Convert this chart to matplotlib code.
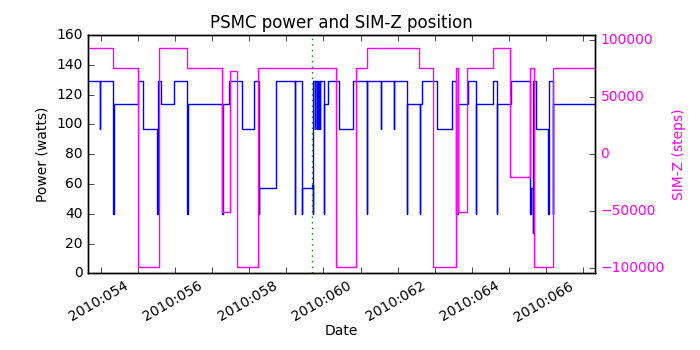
import matplotlib
matplotlib.use("Agg")
import matplotlib.pyplot as plt
import matplotlib.transforms as mtransforms
from matplotlib.ticker import MultipleLocator, FuncFormatter

plt.style.use("classic")

# PSMC power steps (day of year 2010, watts)
power_times = [52.66, 52.98, 52.99, 53.339, 53.347, 54.013, 54.148, 54.509, 54.552,
               54.624, 54.975, 55.333, 55.341, 56.276, 56.284, 56.456, 56.798,
               57.138, 57.256, 57.264, 57.723, 58.234, 58.242, 58.415, 58.423,
               58.684, 58.711, 58.719, 58.773, 58.78, 58.818, 58.825, 58.862,
               58.869, 58.907, 58.914, 59.015, 59.023, 59.115, 59.428, 59.789,
               60.166, 60.174, 60.543, 60.55, 60.901, 60.908, 61.243, 61.251,
               61.602, 61.61, 61.65, 62.068, 62.456, 62.572, 62.625, 62.887,
               63.11, 63.118, 63.577, 63.668, 63.676, 64.045, 64.565, 64.584,
               64.638, 64.654, 64.719, 65.042, 65.077, 65.193, 65.201, 66.32]
power_watts = [129, 97, 129, 40, 114, 129, 97, 40, 129,
               114, 129, 40, 114, 40, 114, 129, 97,
               129, 40, 57, 129, 40, 129, 40, 57,
               59, 40, 129, 97, 129, 97, 129, 97,
               129, 97, 129, 40, 114, 129, 97, 129,
               40, 129, 97, 129, 97, 129, 40, 114,
               40, 114, 129, 97, 129, 40, 114, 129,
               40, 114, 129, 40, 114, 129, 40, 57,
               27, 129, 97, 40, 129, 40, 114, 114]

# SIM-Z translation steps
simz_times = [52.66, 53.339, 54.013, 54.579, 55.333, 56.26, 56.483, 56.664, 57.246,
              59.331, 59.878, 60.166, 61.583, 61.96, 62.564, 62.617, 62.86,
              63.577, 64.026, 64.565, 64.673, 65.193, 66.32]
simz_steps = [92905, 75624, -99616, 92905, 75624, -50505, 72800, -99616, 75624,
              -99616, 75624, 92905, 75624, -99616, 75624, -50505, 75624,
              92905, -20300, 75624, -99616, 75624, 75624]

now_time = 58.70
magenta = "#ff00ff"

fig = plt.figure(figsize=(7, 3.5), dpi=100)
ax1 = fig.add_axes([0.126, 0.219, 0.724, 0.681])
ax1.step(power_times, power_watts, where="post", color="b", lw=1.0)
ax1.axvline(now_time, color="g", ls=":", lw=1.0)
ax1.set_xlim(52.66, 66.32)
ax1.set_ylim(0, 160)
ax1.set_ylabel("Power (watts)", fontsize=10)
ax1.set_xlabel("Date", fontsize=10, labelpad=0)
ax1.set_title("PSMC power and SIM-Z position", fontsize=12)
ax1.xaxis.set_major_locator(MultipleLocator(1))
ax1.xaxis.set_major_formatter(
    FuncFormatter(lambda x, pos: "2010:%03d" % round(x) if round(x) % 2 == 0 else ""))
ax1.tick_params(labelsize=10)

# rotated date labels, nudged left of their ticks
shift = mtransforms.ScaledTranslation(-0.07, 0, fig.dpi_scale_trans)
for tick in ax1.xaxis.get_major_ticks():
    tick.label1.set_rotation(30)
    tick.label1.set_ha("right")
    tick.label1.set_transform(tick.label1.get_transform() + shift)

ax2 = ax1.twinx()
ax2.step(simz_times, simz_steps, where="post", color=magenta, lw=1.0)
ax2.set_ylim(-104800, 104500)
ax2.set_xlim(52.66, 66.32)
ax2.set_ylabel("SIM-Z (steps)", color=magenta, fontsize=10)
ax2.tick_params(labelsize=10, labelcolor=magenta)

plt.savefig("out.png", dpi=100)
plt.close()
